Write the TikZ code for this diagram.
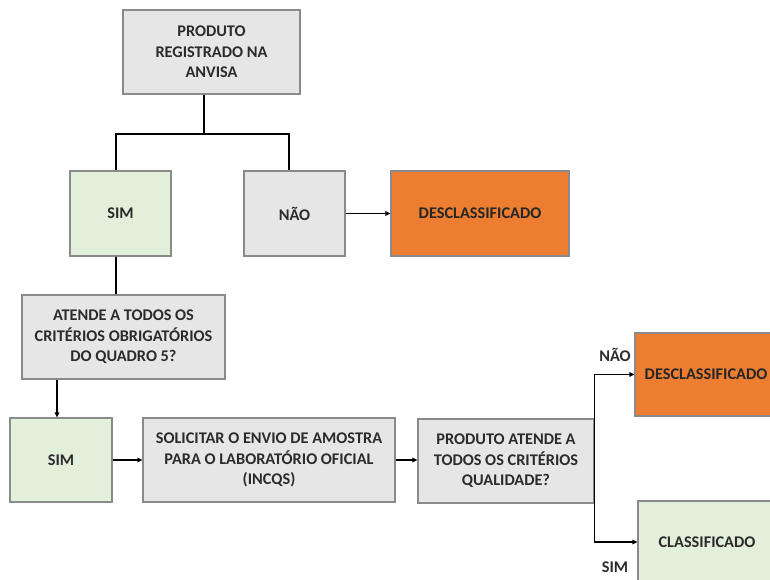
\documentclass[tikz,border=0pt]{standalone}
\usepackage{fontspec}
\setmainfont{Carlito}
\usetikzlibrary{arrows.meta}
\definecolor{boxgray}{HTML}{E6E6E6}
\definecolor{boxgreen}{HTML}{E2EFDA}
\definecolor{boxorange}{HTML}{ED7D31}
\definecolor{edgegray}{HTML}{8A8A8A}
\definecolor{txt}{HTML}{2B2B2B}
\tikzset{
  box/.style={draw=edgegray, line width=1.1pt, align=center, inner sep=2pt,
    font=\fontsize{16.3}{20.5}\selectfont\bfseries, text=txt},
  graybox/.style={box, fill=boxgray},
  greenbox/.style={box, fill=boxgreen},
  orangebox/.style={box, fill=boxorange, text=black!85},
  conn/.style={line width=1.2pt, black},
  arr/.style={conn, -{Triangle[length=5pt,width=4.5pt]}},
  lbl/.style={font=\fontsize{16.3}{18}\selectfont\bfseries, text=txt, inner sep=0pt}
}
\begin{document}
\begin{tikzpicture}[x=1pt,y=-1pt]
\useasboundingbox (0,0) rectangle (770,580);
\clip (0,0) rectangle (770,580);
\node[graybox, minimum width=177pt, minimum height=84pt] (top) at (211.5,52) {PRODUTO\\REGISTRADO NA\\ANVISA};
\node[greenbox, minimum width=101pt, minimum height=85pt] (sim1) at (120.5,213.5) {SIM};
\node[graybox, minimum width=101pt, minimum height=85pt] (nao1) at (294.5,213.5) {NÃO};
\node[orangebox, minimum width=178pt, minimum height=85pt] (desc1) at (480,213.5) {DESCLASSIFICADO};
\node[graybox, minimum width=203pt, minimum height=84pt] (atende) at (123.5,337) {ATENDE A TODOS OS\\CRITÉRIOS OBRIGATÓRIOS\\DO QUADRO 5?};
\node[greenbox, minimum width=102pt, minimum height=84pt] (sim2) at (61,460) {SIM};
\node[graybox, minimum width=252pt, minimum height=84pt] (solic) at (269,460) {SOLICITAR O ENVIO DE AMOSTRA\\PARA O LABORATÓRIO OFICIAL\\(INCQS)};
\node[graybox, minimum width=176pt, minimum height=84pt] (prod) at (506,461) {PRODUTO ATENDE A\\TODOS OS CRITÉRIOS\\QUALIDADE?};
\node[orangebox, minimum width=142pt, minimum height=83pt] (desc2) at (706,374.5) {DESCLASSIFICADO};
\node[greenbox, minimum width=138pt, minimum height=82pt] (class) at (707,542) {CLASSIFICADO};
\node[lbl] (lnao) at (615,355) {NÃO};
\node[lbl] (lsim) at (615,567) {SIM};
% junction coordinates
\coordinate (j1) at (204,134);
\coordinate (xl) at (116,0);
\coordinate (xr) at (289,0);
\coordinate (xa) at (57,0);
\draw[conn] (top.south -| j1) -- (j1);
\draw[conn] (sim1.north -| xl) |- (j1) -| (nao1.north -| xr);
\draw[arr] (nao1.east) -- (desc1.west);
\draw[conn] (sim1.south -| xl) -- (atende.north -| xl);
\draw[arr] (atende.south -| xa) -- (sim2.north -| xa);
\draw[arr] (sim2.east) -- (solic.west);
\draw[arr] (solic.east) -- (solic.east -| prod.west);
\draw[arr] (prod.east) -- (prod.east |- desc2) -- (desc2.west);
\draw[arr] (prod.east) -- (prod.east |- class) -- (class.west);
\end{tikzpicture}
\end{document}
